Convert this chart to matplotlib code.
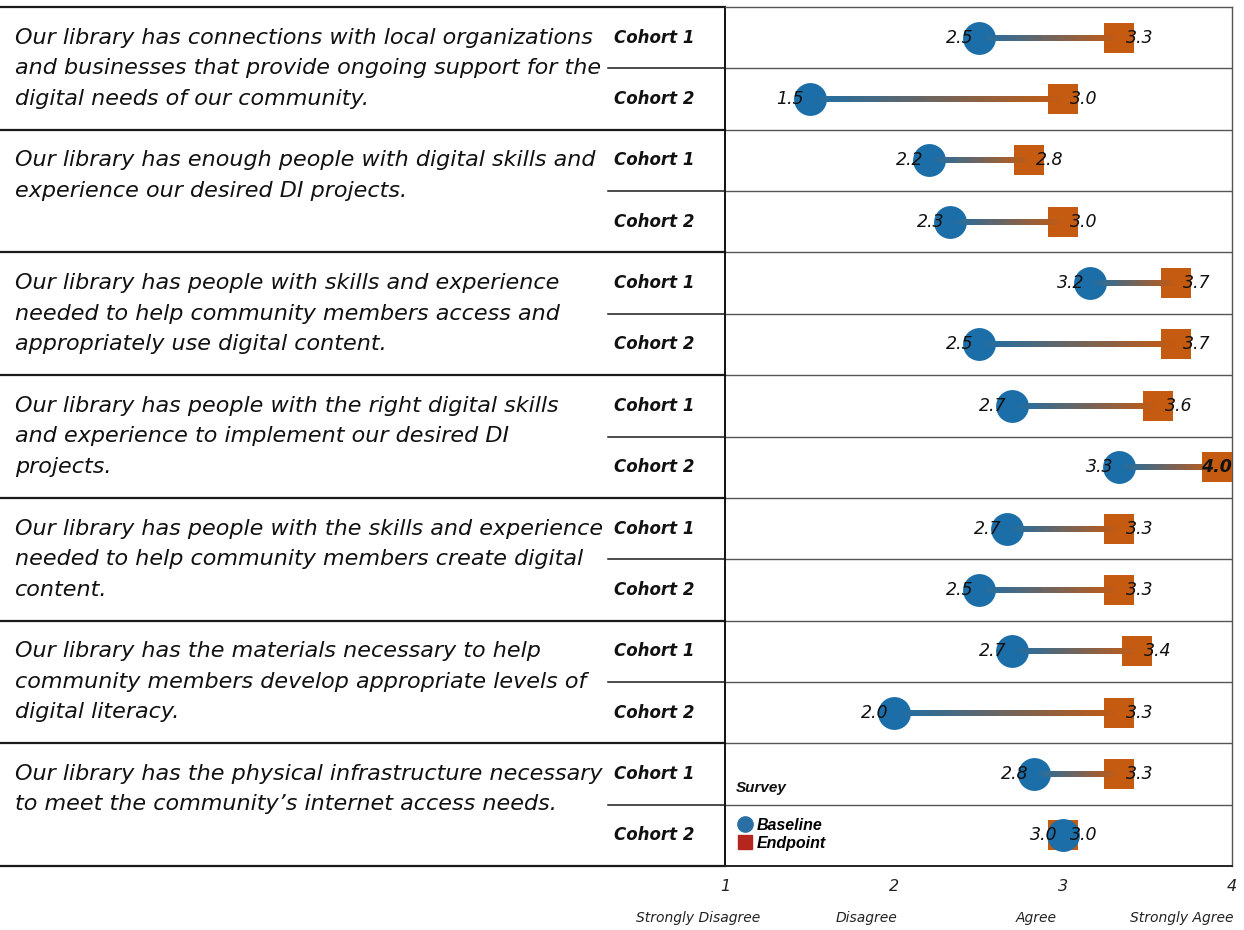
import numpy as np
import matplotlib
matplotlib.use("Agg")
import matplotlib.pyplot as plt
from matplotlib.collections import LineCollection
from matplotlib.lines import Line2D
from matplotlib.transforms import blended_transform_factory

# --- data ---------------------------------------------------------------
statements = [
    "Our library has connections with local organizations\nand businesses that provide ongoing support for the\ndigital needs of our community.",
    "Our library has enough people with digital skills and\nexperience our desired DI projects.",
    "Our library has people with skills and experience\nneeded to help community members access and\nappropriately use digital content.",
    "Our library has people with the right digital skills\nand experience to implement our desired DI\nprojects.",
    "Our library has people with the skills and experience\nneeded to help community members create digital\ncontent.",
    "Our library has the materials necessary to help\ncommunity members develop appropriate levels of\ndigital literacy.",
    "Our library has the physical infrastructure necessary\nto meet the community\u2019s internet access needs.",
]
cohorts = ["Cohort 1", "Cohort 2"]
# one value per (statement, cohort) row, top to bottom
baseline = [2.5, 1.5, 2.21, 2.33, 3.16, 2.5, 2.7, 3.33, 2.67, 2.5, 2.7, 2.0, 2.83, 3.0]
endpoint = [3.33, 3.0, 2.8, 3.0, 3.67, 3.67, 3.56, 4.0, 3.33, 3.33, 3.44, 3.33, 3.33, 3.0]
scale_ticks = [1, 2, 3, 4]
scale_labels = ["Strongly Disagree", "Disagree", "Agree", "Strongly Agree"]

BLUE = "#1b6ea8"
ORANGE = "#c55a11"
LEG_BLUE = "#2a6fa3"
LEG_RED = "#b5261e"
W, H = 1244, 930
ROW_PX = (866 - 7) / 14.0

fig = plt.figure(figsize=(W / 100, H / 100), dpi=100)
ax = fig.add_axes([725 / W, 1 - 866 / H, (1232 - 725) / W, (866 - 7) / H])
n_rows = len(baseline)
ax.set_xlim(1, 4)
ax.set_ylim(n_rows - 0.5, -0.5)

# frame
for s in ["top", "right"]:
    ax.spines[s].set_color("#555555")
    ax.spines[s].set_linewidth(1.0)
ax.spines["left"].set_color("#111111")
ax.spines["left"].set_linewidth(1.4)
ax.spines["bottom"].set_color("#222222")
ax.spines["bottom"].set_linewidth(1.4)

# row separators inside the plot
for k in range(1, n_rows):
    ax.axhline(k - 0.5, color="#555555", lw=1.0, zorder=1)

# left-hand table lines (x in figure fraction, y in rows)
tleft = blended_transform_factory(fig.transFigure, ax.transData)
for i in range(len(statements) + 1):
    y = 2 * i - 0.5
    ax.plot([0, 725 / W], [y, y], color="#1a1a1a", lw=1.6,
            transform=tleft, clip_on=False)
for i in range(len(statements)):
    y = 2 * i + 0.5
    ax.plot([608 / W, 725 / W], [y, y], color="#1a1a1a", lw=1.1,
            transform=tleft, clip_on=False, zorder=5)

# statement text (one line at a time, 30 px apart) and cohort labels
line_step = 30.5 / ROW_PX
for i, txt in enumerate(statements):
    for k, line in enumerate(txt.split("\n")):
        ax.text(15 / W, 2 * i + k * line_step, line, transform=tleft,
                ha="left", va="center", fontsize=16, style="italic",
                family=["DejaVu Sans"], color="#111111")
    for j, c in enumerate(cohorts):
        ax.text(654 / W, 2 * i + j, c, transform=tleft, ha="center",
                va="center", fontsize=12, style="italic", weight="bold",
                family=["Liberation Sans Narrow", "DejaVu Sans"],
                color="#111111")

# dumbbells with a blue -> orange gradient bar
xmax_marker = 3.91
c0 = np.array(matplotlib.colors.to_rgb(BLUE))
c1 = np.array(matplotlib.colors.to_rgb(ORANGE))
for r in range(n_rows):
    b = baseline[r]
    e = endpoint[r]
    ex = min(e, xmax_marker)
    xs = np.linspace(b, ex, 61)
    overlap = (ex - b) / 60 * 0.6
    segs = [[(xs[k], r), (xs[k + 1] + overlap, r)] for k in range(len(xs) - 1)]
    t = np.linspace(0, 1, len(segs))[:, None]
    cols = (1 - t) * c0 + t * c1
    ax.scatter([ex], [r], marker="s", s=450, color=ORANGE, zorder=3,
               linewidths=0)
    ax.scatter([b], [r], marker="o", s=560, color=BLUE, zorder=4,
               linewidths=0)
    lc = LineCollection(segs, colors=cols, linewidths=4.3,
                        capstyle="butt", zorder=5)
    ax.add_collection(lc)
    ax.plot([ex, ex], [r, r], color=ORANGE, lw=5, solid_capstyle="round",
            zorder=5)
    ax.annotate("%.1f" % b, (b, r), xytext=(-4, 0), textcoords="offset points",
                ha="right", va="center", fontsize=12.5, style="italic",
                family=["DejaVu Sans"], color="#111111", zorder=6)
    if ex < e:
        ax.annotate("%.1f" % e, (ex, r), ha="center", va="center",
                    fontsize=12.5, style="italic", weight="bold",
                    family=["DejaVu Sans"], color="#111111", zorder=6)
    else:
        ax.annotate("%.1f" % e, (e, r), xytext=(5, 0),
                    textcoords="offset points", ha="left", va="center",
                    fontsize=12.5, style="italic", family=["DejaVu Sans"],
                    color="#111111", zorder=6)

# legend
ax.text(0.022, n_rows - 2 + 0.23, "Survey", ha="left", va="center",
        transform=blended_transform_factory(ax.transAxes, ax.transData),
        fontsize=11, style="italic", weight="bold",
        family=["Liberation Sans", "DejaVu Sans"], color="#111111")
handles = [
    Line2D([], [], ls="none", marker="o", ms=11, color=LEG_BLUE),
    Line2D([], [], ls="none", marker="s", ms=9.5, color=LEG_RED),
]
leg = ax.legend(handles, ["Baseline", "Endpoint"], loc="lower left",
                bbox_to_anchor=(0.0, 0.0), frameon=False, handlelength=0.6,
                handletextpad=0.45, labelspacing=0.2, borderpad=0.45,
                prop={"style": "italic", "weight": "bold", "size": 11.5,
                      "family": ["Liberation Sans", "DejaVu Sans"]})

# x axis
ax.set_yticks([])
ax.set_xticks(scale_ticks)
ax.set_xticklabels([str(v) for v in scale_ticks], style="italic",
                   fontsize=11.5, color="#222222")
ax.tick_params(axis="x", length=0, pad=9)
label_x = [s - 0.16 for s in scale_ticks[:-1]] + [scale_ticks[-1] - 0.3]
tb = blended_transform_factory(ax.transData, fig.transFigure)
for x, lab in zip(label_x, scale_labels):
    ax.text(x, 1 - 918 / H, lab, transform=tb, ha="center", va="center",
            fontsize=10, style="italic",
            family=["Liberation Sans Narrow", "DejaVu Sans"],
            color="#222222", clip_on=False)

fig.savefig("out.png", dpi=100)
